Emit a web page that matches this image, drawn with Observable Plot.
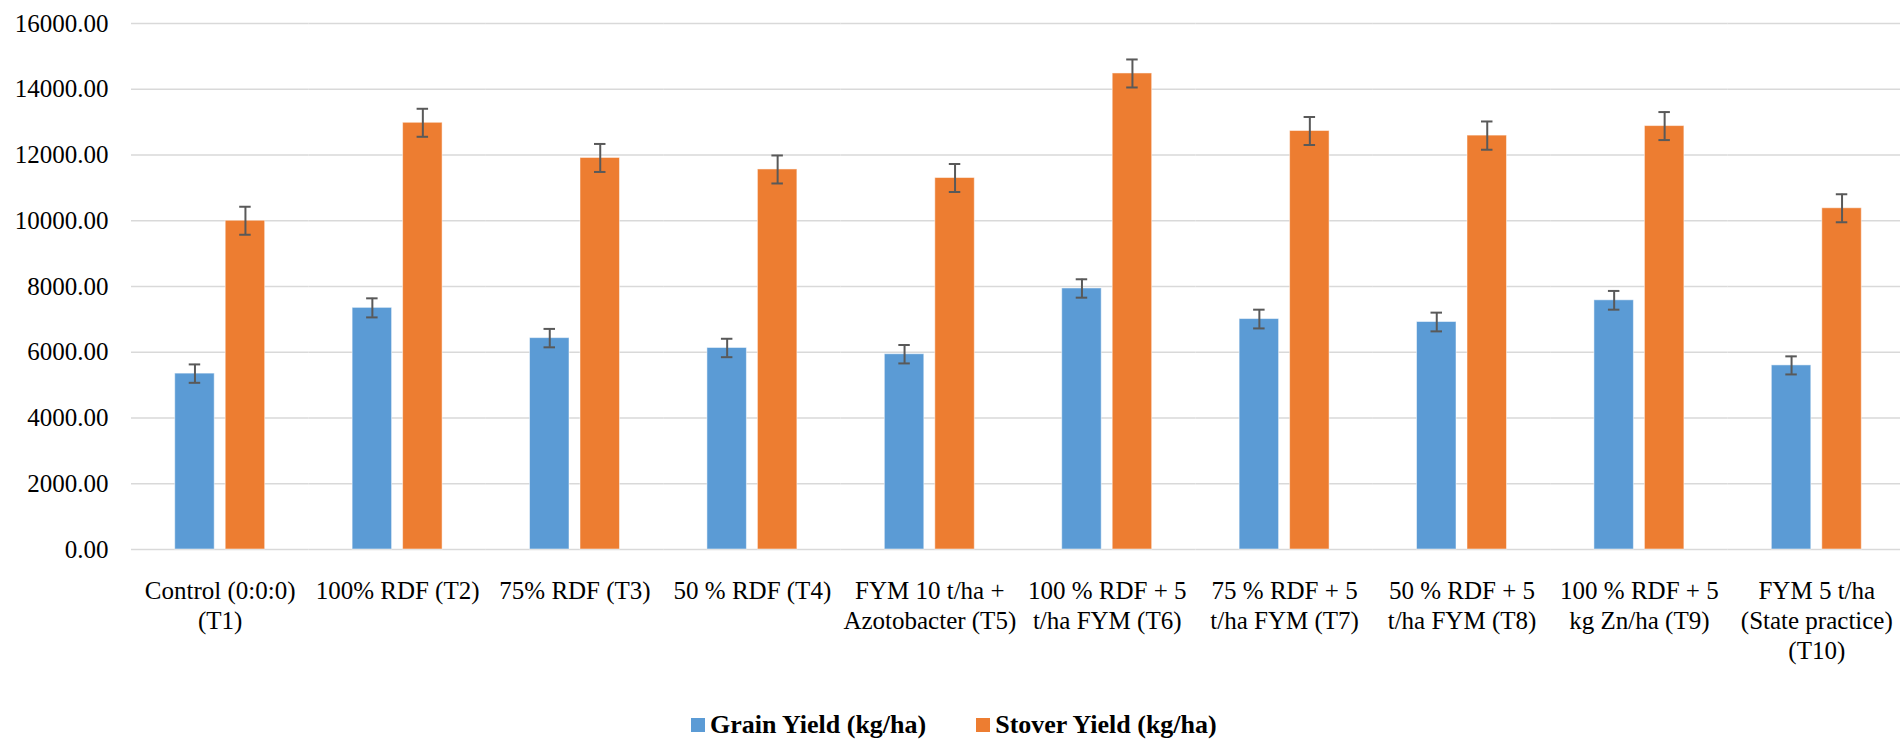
<!DOCTYPE html>
<html><head><meta charset="utf-8">
<script src="https://cdn.jsdelivr.net/npm/d3@7"></script>
<script src="https://cdn.jsdelivr.net/npm/@observablehq/plot@0.6"></script>
<style>
html,body{margin:0;padding:0;background:#fff;overflow:hidden;}
#legend{position:absolute;left:691px;top:709px;height:32px;display:flex;align-items:center;font-family:"Liberation Serif","Times New Roman",serif;font-weight:bold;font-size:26px;color:#000;white-space:nowrap;}
.sw{display:inline-block;width:14px;height:14px;margin-right:5px;}
.item{display:flex;align-items:center;margin-right:50px;}
svg text{font-family:"Liberation Serif","Times New Roman",serif !important;}
</style></head><body>
<div id="chart"></div>
<div id="legend"></div>
<script>
const treatments = [
  "Control (0:0:0)\n(T1)",
  "100% RDF (T2)",
  "75% RDF (T3)",
  "50 % RDF (T4)",
  "FYM 10 t/ha +\nAzotobacter (T5)",
  "100 % RDF + 5\nt/ha FYM (T6)",
  "75 % RDF + 5\nt/ha FYM (T7)",
  "50 % RDF + 5\nt/ha FYM (T8)",
  "100 % RDF + 5\nkg Zn/ha (T9)",
  "FYM 5 t/ha\n(State practice)\n(T10)"
];
const seriesNames = ["Grain Yield (kg/ha)", "Stover Yield (kg/ha)"];
const seriesColors = ["#5B9BD5", "#ED7D31"];
const grainYield = [5350, 7350, 6430, 6130, 5940, 7940, 7010, 6920, 7580, 5600];
const stoverYield = [10000, 12980, 11910, 11560, 11300, 14480, 12730, 12590, 12880, 10380];
const grainError = [280, 290, 280, 280, 280, 280, 285, 285, 285, 275];
const stoverError = [426, 426, 426, 426, 426, 426, 426, 430, 426, 426];
const yTicks = [0, 2000, 4000, 6000, 8000, 10000, 12000, 14000, 16000];

const rows = treatments.flatMap((t, i) => [
  {treatment: t, series: seriesNames[0], value: grainYield[i], err: grainError[i]},
  {treatment: t, series: seriesNames[1], value: stoverYield[i], err: stoverError[i]}
]);

const serif = "'Liberation Serif','Times New Roman',serif";
const errStyle = {fx: "treatment", x: "series", stroke: "#595959", strokeWidth: 2};

const chart = Plot.plot({
  width: 1900, height: 708,
  marginLeft: 131, marginRight: -5, marginTop: 23, marginBottom: 159,
  style: {fontFamily: serif, fontSize: "25px", color: "#000", background: "#fff", overflow: "hidden"},
  fx: {domain: treatments, padding: 0, label: null, round: false},
  x: {domain: seriesNames, paddingInner: 0.218, paddingOuter: 0.866, axis: null, round: false},
  y: {domain: [0, 16000]},
  color: {domain: seriesNames, range: seriesColors},
  marks: [
    Plot.gridY(yTicks, {stroke: "#d9d9d9", strokeOpacity: 1, strokeWidth: 1.5}),
    Plot.axisY(yTicks, {tickSize: 0, tickPadding: 23, tickFormat: d3.format(".2f"), fill: "#000", label: null, fontSize: 25, fontFamily: serif, fontVariant: "normal"}),
    Plot.axisFx({anchor: "bottom", tickSize: 0, tickPadding: 28, lineHeight: 1.2, fill: "#000", label: null, fontSize: 25, fontFamily: serif, fontVariant: "normal"}),
    Plot.barY(rows, {fx: "treatment", x: "series", y: "value", fill: "series", stroke: "#fff", strokeOpacity: 0.5, strokeWidth: 1}),
    Plot.ruleX(rows, {...errStyle, y1: d => d.value - d.err, y2: d => d.value + d.err}),
    Plot.tickY(rows, {...errStyle, y: d => d.value - d.err, inset: 14}),
    Plot.tickY(rows, {...errStyle, y: d => d.value + d.err, inset: 14})
  ]
});
document.getElementById("chart").append(chart);

const legend = document.getElementById("legend");
seriesNames.forEach((name, i) => {
  const item = document.createElement("span");
  item.className = "item";
  const sw = document.createElement("span");
  sw.className = "sw";
  sw.style.background = seriesColors[i];
  item.append(sw, document.createTextNode(name));
  legend.append(item);
});
</script>
</body></html>
